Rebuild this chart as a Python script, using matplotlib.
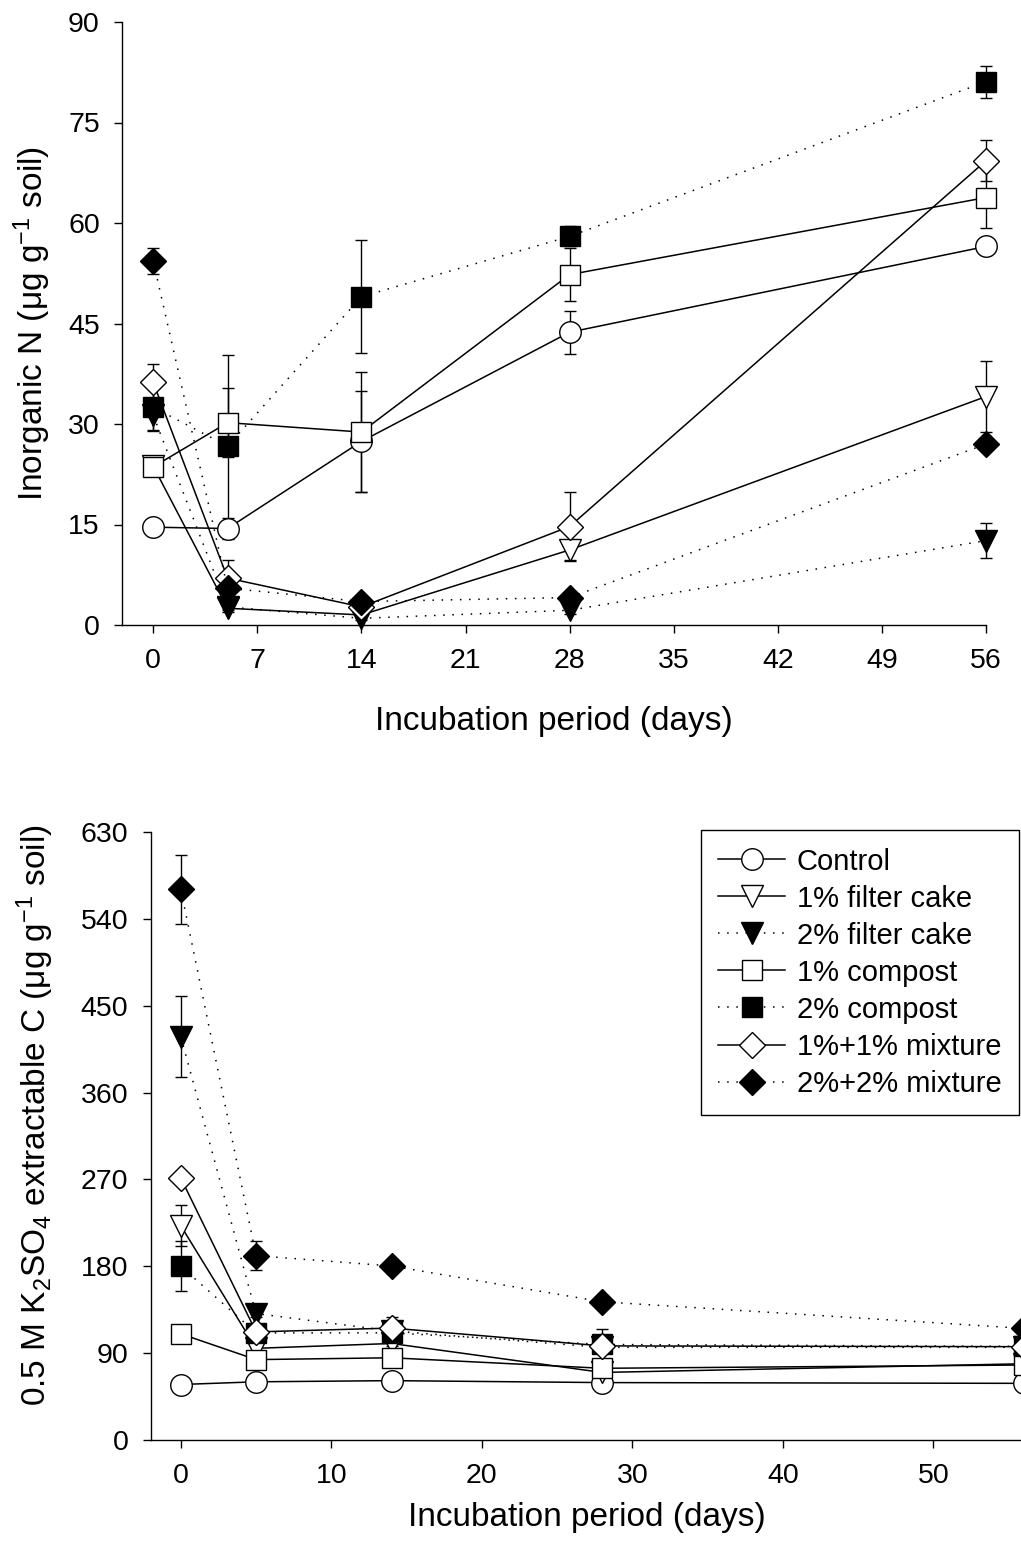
import matplotlib
matplotlib.use('Agg')
import matplotlib.pyplot as plt

plt.rcParams['font.family'] = 'Liberation Sans'
plt.rcParams['mathtext.fontset'] = 'custom'
plt.rcParams['mathtext.rm'] = 'Liberation Sans'
plt.rcParams['mathtext.it'] = 'Liberation Sans:italic'
plt.rcParams['mathtext.default'] = 'regular'

days = [0, 5, 14, 28, 56]
treatments = ['Control', '1% filter cake', '2% filter cake', '1% compost',
              '2% compost', '1%+1% mixture', '2%+2% mixture']

# inorganic N (ug/g soil), top panel
n_control = [14.6, 14.4, 27.4, 43.7, 56.5]
n_fc1 = [23.7, 2.5, 1.5, 11.2, 34.1]
n_fc2 = [31.3, 2.7, 1.0, 2.2, 12.6]
n_comp1 = [23.6, 30.2, 28.8, 52.3, 63.8]
n_comp2 = [32.5, 26.7, 49.0, 58.0, 81.1]
n_mix1 = [36.2, 7.0, 2.7, 14.7, 69.3]
n_mix2 = [54.3, 5.5, 3.5, 4.1, 27.0]

n_control_err = [0.5, 1.5, 7.6, 3.2, 1.3]
n_fc1_err = [1.0, 0.5, 0.5, 1.5, 5.3]
n_fc2_err = [2.2, 0.5, 0.3, 0.5, 2.6]
n_comp1_err = [1.3, 5.1, 9.0, 3.9, 4.6]
n_comp2_err = [3.5, 13.6, 8.4, 1.5, 2.4]
n_mix1_err = [2.8, 2.7, 0.5, 5.1, 3.1]
n_mix2_err = [1.9, 1.0, 0.5, 0.5, 0.5]

# K2SO4 extractable C (ug/g soil), bottom panel
c_control = [57.5, 60.3, 61.5, 59.5, 58.7]
c_fc1 = [222.0, 95.0, 100.0, 70.0, 79.0]
c_fc2 = [418.0, 131.0, 113.0, 96.0, 96.0]
c_comp1 = [110.0, 83.3, 85.2, 74.3, 77.7]
c_comp2 = [180.0, 111.0, 111.0, 99.0, 97.0]
c_mix1 = [271.5, 112.0, 116.0, 97.5, 96.7]
c_mix2 = [570.6, 191.0, 180.3, 143.2, 115.7]

c_control_err = [2.0, 2.0, 2.0, 2.0, 2.0]
c_fc1_err = [21.0, 3.0, 3.0, 3.0, 3.0]
c_fc2_err = [42.0, 4.0, 4.0, 4.0, 4.0]
c_comp1_err = [3.0, 3.0, 3.0, 3.0, 3.0]
c_comp2_err = [26.0, 4.0, 4.0, 16.0, 4.0]
c_mix1_err = [4.0, 4.0, 11.0, 4.0, 4.0]
c_mix2_err = [36.0, 15.0, 7.0, 3.0, 3.0]

n_vals = [n_control, n_fc1, n_fc2, n_comp1, n_comp2, n_mix1, n_mix2]
n_errs = [n_control_err, n_fc1_err, n_fc2_err, n_comp1_err, n_comp2_err, n_mix1_err, n_mix2_err]
c_vals = [c_control, c_fc1, c_fc2, c_comp1, c_comp2, c_mix1, c_mix2]
c_errs = [c_control_err, c_fc1_err, c_fc2_err, c_comp1_err, c_comp2_err, c_mix1_err, c_mix2_err]

dot = (0, (1, 5))
markers = ['o', 'v', 'v', 's', 's', 'D', 'D']
msizes = [15.5, 15.5, 15.5, 14, 14, 13.5, 13.5]
faces = ['white', 'white', 'black', 'white', 'black', 'white', 'black']
styles = ['-', '-', dot, '-', dot, '-', dot]

W, H = 1021, 1555
fig = plt.figure(figsize=(W / 100, H / 100), dpi=100)

# pixel boxes of the two panels
ax1 = fig.add_axes([122 / W, 1 - 625 / H, (986 - 122) / W, (625 - 22) / H])
ax2 = fig.add_axes([150.7 / W, 1 - 1440 / H, (1023.6 - 150.7) / W, (1440 - 832) / H])


def draw(ax, vals, errs):
    for i in range(len(vals)):
        ax.errorbar(days, vals[i], yerr=errs[i], color='black', lw=1.1,
                    linestyle=styles[i], marker=markers[i], ms=msizes[i],
                    mfc=faces[i], mec='black', mew=1.0, ecolor='black',
                    elinewidth=1.0, capsize=4.5, capthick=1.0,
                    label=treatments[i], clip_on=False)


def style(ax):
    for s in ['top', 'right']:
        ax.spines[s].set_visible(False)
    for s in ['left', 'bottom']:
        ax.spines[s].set_linewidth(1.0)
    ax.tick_params(direction='out', length=5.5, width=1.0, labelsize=20.5)
    ax.tick_params(axis='x', pad=11)
    ax.tick_params(axis='y', pad=10.5)


draw(ax1, n_vals, n_errs)
style(ax1)
ax1.set_xlim(-2.1, 56)
ax1.set_ylim(0, 90)
ax1.set_xticks([0, 7, 14, 21, 28, 35, 42, 49, 56])
ax1.set_yticks([0, 15, 30, 45, 60, 75, 90])
ax1.set_xlabel('Incubation period (days)', fontsize=24, labelpad=23)
ax1.set_ylabel('Inorganic N (μg g$^{-1}$ soil)', fontsize=24)
ax1.yaxis.set_label_coords(-0.08, 0.5)

draw(ax2, c_vals, c_errs)
style(ax2)
ax2.set_xlim(-2, 56)
ax2.set_ylim(0, 630)
ax2.set_xticks([0, 10, 20, 30, 40, 50])
ax2.set_yticks([0, 90, 180, 270, 360, 450, 540, 630])
ax2.set_xlabel('Incubation period (days)', fontsize=24, labelpad=9.5)
ax2.set_ylabel('0.5 M K$_2$SO$_4$ extractable C (μg g$^{-1}$ soil)', fontsize=24)
ax2.yaxis.set_label_coords(-0.108, 0.535)

handles, labels = ax2.get_legend_handles_labels()
handles = [h[0] for h in handles]
leg = ax2.legend(handles, labels, loc='upper right', fontsize=21,
                 bbox_to_anchor=(1019 / W, 1 - 830 / H), bbox_transform=fig.transFigure,
                 borderaxespad=0, fancybox=False, edgecolor='black', framealpha=1,
                 handlelength=2.3, handletextpad=0.4, labelspacing=0.31,
                 borderpad=0.6, numpoints=1)
leg.get_frame().set_linewidth(1.0)

fig.savefig('out.png', dpi=100)
